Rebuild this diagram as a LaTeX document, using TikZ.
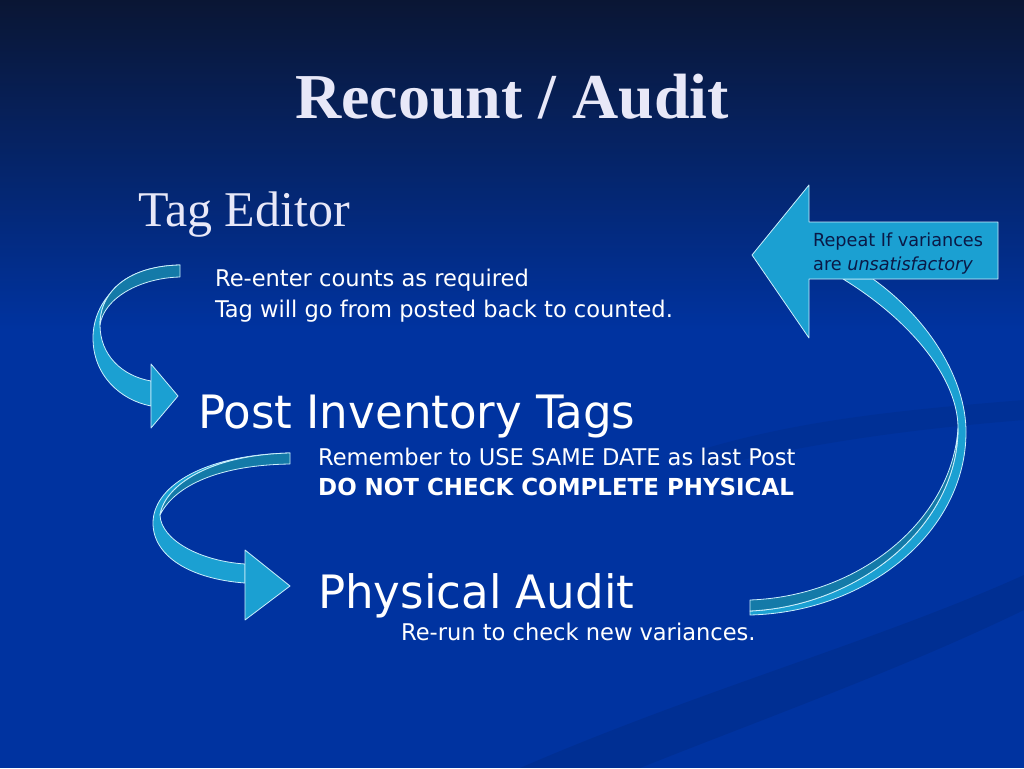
\documentclass[tikz,border=0pt]{standalone}
\usepackage{fontspec}
\setmainfont{Liberation Serif}
\setsansfont[FakeStretch=1.09]{DejaVu Sans Condensed}
\usepackage{tikz}
\definecolor{slideTop}{RGB}{10,22,52}
\definecolor{slideBlue}{RGB}{0,51,160}
\definecolor{ribbonLight}{RGB}{27,160,210}
\definecolor{ribbonDark}{RGB}{20,122,168}
\definecolor{titleWhite}{RGB}{232,232,248}
\definecolor{boxText}{RGB}{10,25,70}
\tikzset{
    ribbon/.style={fill=ribbonLight,draw=white!80!cyan,line width=0.8pt,line join=round},
    ribbonback/.style={fill=ribbonDark,draw=white!80!cyan,line width=0.8pt,line join=round},
    title/.style={inner sep=0pt,anchor=base,font=\fontsize{64}{70}\selectfont\bfseries,text=titleWhite},
    heading/.style={inner sep=0pt,anchor=base west,font=\fontsize{50}{56}\selectfont,text=titleWhite},
    big/.style={inner sep=0pt,anchor=base west,font=\sffamily\fontsize{46}{52}\selectfont,text=white},
    note/.style={inner sep=0pt,anchor=base west,font=\sffamily\fontsize{23}{30}\selectfont,text=white},
    boxnote/.style={inner sep=0pt,anchor=base west,font=\sffamily\fontsize{18}{24}\selectfont,text=boxText}
}

\begin{document}
\begin{tikzpicture}[x=1pt,y=-1pt]
    \useasboundingbox (0,0) rectangle (1024,768);
    % background
    \fill[slideBlue] (0,0) rectangle (1024,768);
    \shade[top color=slideTop,bottom color=slideBlue] (0,0) rectangle (1024,330);
    \fill[black,opacity=0.08] (520,768) .. controls (700,690) and (880,640) .. (1024,575) -- (1024,610) .. controls (900,670) and (760,720) .. (640,768) -- cycle;
    \fill[black,opacity=0.06] (700,450) .. controls (800,420) and (900,410) .. (1024,400) -- (1024,420) .. controls (900,430) and (800,445) .. (700,470) -- cycle;

    % titles
    \node[title] (title) at (512,118) {Recount / Audit};
    \node[heading] (tag) at (138,226) {Tag Editor};

    % arrow from tag editor down to post
    \draw[ribbon] (180,265) .. controls (125,266) and (93,300) .. (93,338) .. controls (93,375) and (120,400) .. (151,406) -- (151,381) .. controls (122,376) and (100,355) .. (100,325) .. controls (100,290) and (130,266) .. (180,265) -- cycle;
    \draw[ribbonback] (180,265) .. controls (130,266) and (100,290) .. (100,325) .. controls (104,298) and (140,278) .. (180,277) -- cycle;
    \draw[ribbon] (151,364) -- (178,396) -- (151,428) -- cycle;

    % arrow from post down to audit
    \draw[ribbon] (290,453) .. controls (200,455) and (153,488) .. (153,523) .. controls (153,556) and (190,579) .. (245,583) -- (245,564) .. controls (200,561) and (161,540) .. (160,515) .. controls (165,485) and (210,455) .. (290,453) -- cycle;
    \draw[ribbonback] (290,453) .. controls (210,455) and (165,485) .. (160,515) .. controls (175,485) and (220,465) .. (290,464) -- cycle;
    \draw[ribbon] (245,550) -- (290,586) -- (245,620) -- cycle;

    % arrow from audit back up to repeat
    \draw[ribbon] (873,279) .. controls (930,320) and (966,380) .. (966,432) .. controls (966,530) and (870,612) .. (750,615) -- (750,611) .. controls (860,606) and (958,525) .. (958,428) .. controls (958,378) and (910,320) .. (843,279) -- cycle;
    \draw[ribbonback] (958,428) .. controls (958,525) and (860,606) .. (750,611) -- (750,600) .. controls (860,596) and (952,520) .. (958,428) -- cycle;
    \draw[ribbon] (998,222) -- (809,222) -- (809,185) -- (752,255) -- (809,338) -- (809,279) -- (998,279) -- cycle;
    \node[boxnote] (repeat) at (813,246) {Repeat If variances};
    \node[boxnote] (unsat) at (813,270) {are \textit{unsatisfactory}};

    % steps
    \node[note] (reenter) at (215,286) {Re-enter counts as required};
    \node[note] (goback) at (215,317) {Tag will go from posted back to counted.};
    \node[big] (post) at (198,428) {Post Inventory Tags};
    \node[note] (remember) at (318,465) {Remember to USE SAME DATE as last Post};
    \node[note,font=\sffamily\bfseries\fontsize{23.4}{30}\selectfont] (donot) at (318,495) {DO NOT CHECK COMPLETE PHYSICAL};
    \node[big] (audit) at (318,608) {Physical Audit};
    \node[note] (rerun) at (401,640) {Re-run to check new variances.};
\end{tikzpicture}
\end{document}
